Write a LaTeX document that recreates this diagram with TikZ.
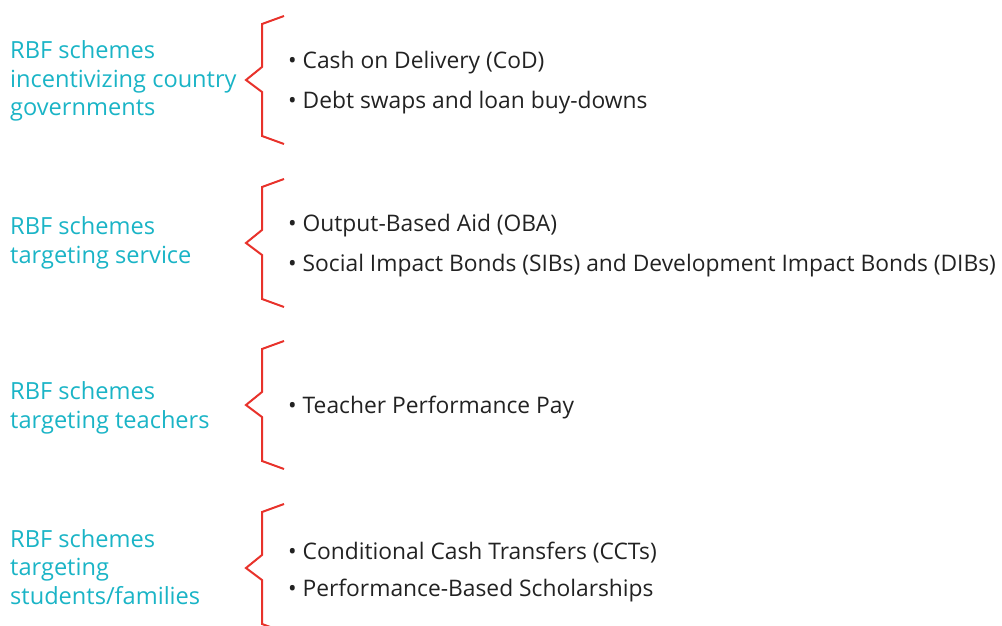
\documentclass[tikz,border=0pt]{standalone}
\usepackage{fontspec}
\setmainfont{Open Sans}
\usepackage{xcolor}
\usepackage{tikz}
\usetikzlibrary{calc}
\definecolor{bg}{HTML}{FFFFFF}
\definecolor{text}{HTML}{222222}
\definecolor{teal}{HTML}{1AB4C6}
\definecolor{brace}{HTML}{E8322B}
\tikzset{
  brc/.style={draw=brace, line width=2pt, line cap=butt, line join=miter},
  grp/.style={text=teal, font=\fontsize{23.6}{28.5}\selectfont, align=left, anchor=west, inner sep=0pt},
  itm/.style={text=text, font=\fontsize{22.8}{24}\selectfont, anchor=west, inner sep=0pt},
}

\begin{document}
\begin{tikzpicture}[x=1pt,y=-1pt]
  \useasboundingbox (0,0) rectangle (1002,626);
  \clip (0,0) rectangle (1002,626);
  % braces
  \foreach \c in {80,243,405,568}{
    \draw[brc] (284,\c-64) -- (262,\c-56) -- (262,\c-13) -- (246,\c)
      -- (262,\c+12) -- (262,\c+56) -- (284,\c+64);
  }
  % groups
  \node[grp] (gov) at (10,81) {RBF schemes\\incentivizing country\\governments};
  \node[grp] (svc) at (10,243) {RBF schemes\\targeting service};
  \node[grp] (tch) at (10,408) {RBF schemes\\targeting teachers};
  \node[grp] (fam) at (10,567) {RBF schemes\\targeting\\students/families};
  % items
  \node[itm] (cod) at (288,63) {\textbullet\ Cash on Delivery (CoD)};
  \node[itm] (debt) at (288,103) {\textbullet\ Debt swaps and loan buy-downs};
  \node[itm] (oba) at (288,226) {\textbullet\ Output-Based Aid (OBA)};
  \node[itm] (sib) at (288,266) {\textbullet\ Social Impact Bonds (SIBs) and Development Impact Bonds (DIBs)};
  \node[itm] (tpp) at (288,408) {\textbullet\ Teacher Performance Pay};
  \node[itm] (cct) at (288,553) {\textbullet\ Conditional Cash Transfers (CCTs)};
  \node[itm] (pbs) at (288,591) {\textbullet\ Performance-Based Scholarships};
\end{tikzpicture}
\end{document}
